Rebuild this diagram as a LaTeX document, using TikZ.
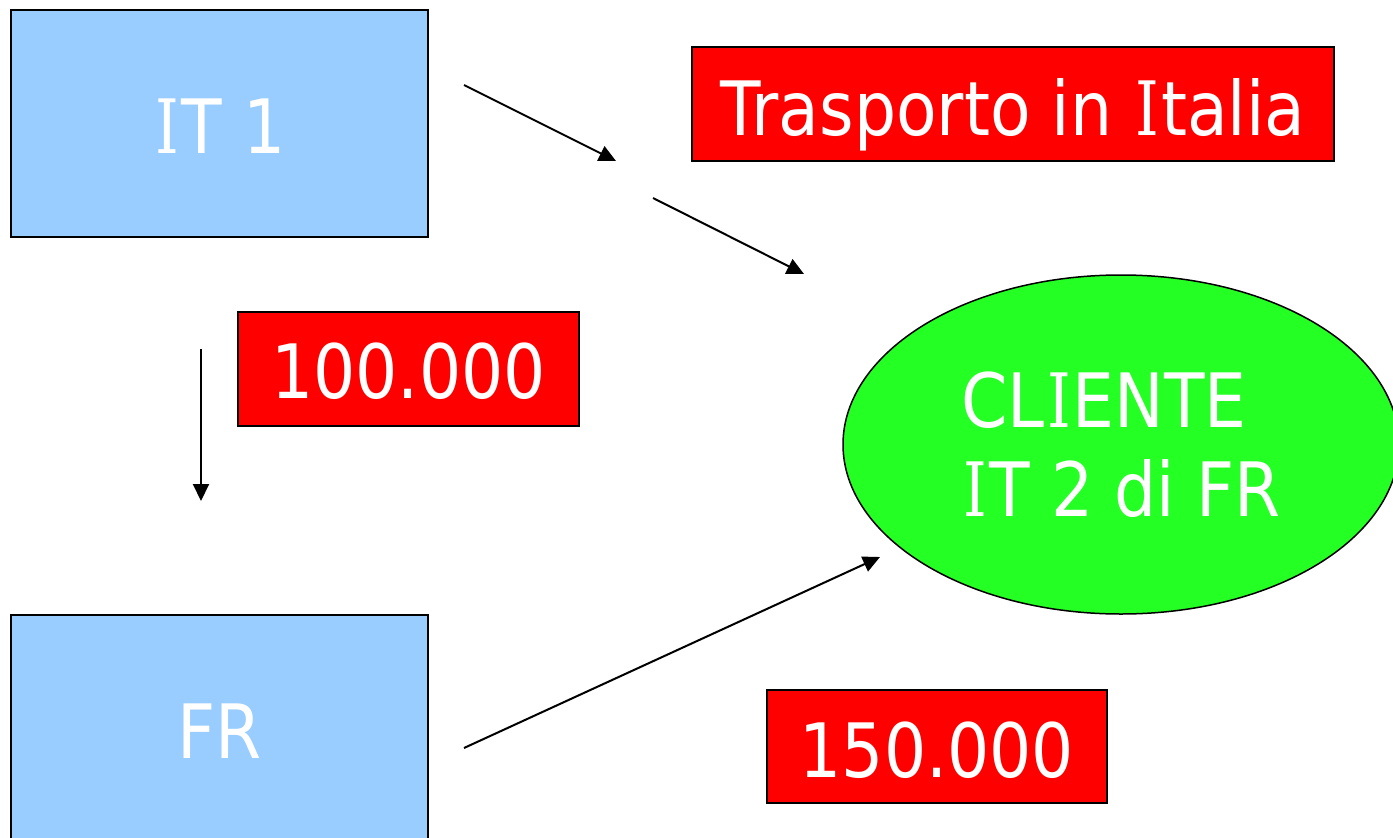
\documentclass[tikz,border=0pt]{standalone}
\usepackage{fontspec}
\setmainfont{DejaVu Sans}[FakeStretch=0.885]
\newfontfamily\serIfont[FakeStretch=0.8]{DejaVu Serif}
\newcommand\Iser{\makebox[0.37em]{\serIfont I}}
\usetikzlibrary{shapes.geometric,arrows.meta}
\definecolor{boxblue}{RGB}{153,204,255}
\definecolor{tagred}{RGB}{255,0,0}
\definecolor{cgreen}{RGB}{36,255,36}
\tikzset{
  bigtext/.style={font=\fontsize{75}{89}\selectfont, text=white},
  bluebox/.style={draw=black, line width=2pt, fill=boxblue, bigtext,
    minimum width=417pt, minimum height=227pt, inner sep=0pt,
    text height=59pt, text depth=0pt},
  redtag/.style={draw=black, line width=2pt, fill=tagred, bigtext,
    inner sep=0pt, text depth=0pt},
  client/.style={ellipse, draw=black, line width=1.5pt, fill=cgreen, bigtext,
    minimum width=556pt, minimum height=339pt, inner sep=0pt, align=left},
  flow/.style={line width=2pt, -{Triangle[length=17pt,width=16pt]}}
}
\begin{document}
\begin{tikzpicture}[x=1pt,y=-1pt]
\useasboundingbox (0,0) rectangle (1393,838);
\clip (0,0) rectangle (1393,838);
\fill[white] (0,0) rectangle (1393,838);

\node[bluebox] (it1) at (219.5,123.5) {\Iser T 1};
\node[bluebox] (fr) at (219.5,728.5) {FR};
\node[redtag, text height=63pt, minimum width=642pt, minimum height=114pt] (trasp) at (1013,104) {Trasporto in \Iser talia};
\node[redtag, text height=59pt, minimum width=341pt, minimum height=114pt] (v100) at (408.5,369) {100.000};
\node[redtag, text height=61pt, minimum width=340pt, minimum height=113pt] (v150) at (937,746.5) {150.000};
\node[client] (cli) at (1121,444.5) {CL\Iser ENTE\\\Iser T 2 di FR};

\coordinate (a1s) at (464,85);
\coordinate (a1e) at (616,161);
\coordinate (a2s) at (653,198);
\coordinate (a2e) at (804,274);
\coordinate (a3s) at (201,349);
\coordinate (a3e) at (201,501);
\coordinate (a4s) at (464,748);
\coordinate (a4e) at (880,557);

\draw[flow] (a1s) -- (a1e);
\draw[flow] (a2s) -- (a2e);
\draw[flow] (a3s) -- (a3e);
\draw[flow] (a4s) -- (a4e);
\end{tikzpicture}
\end{document}
